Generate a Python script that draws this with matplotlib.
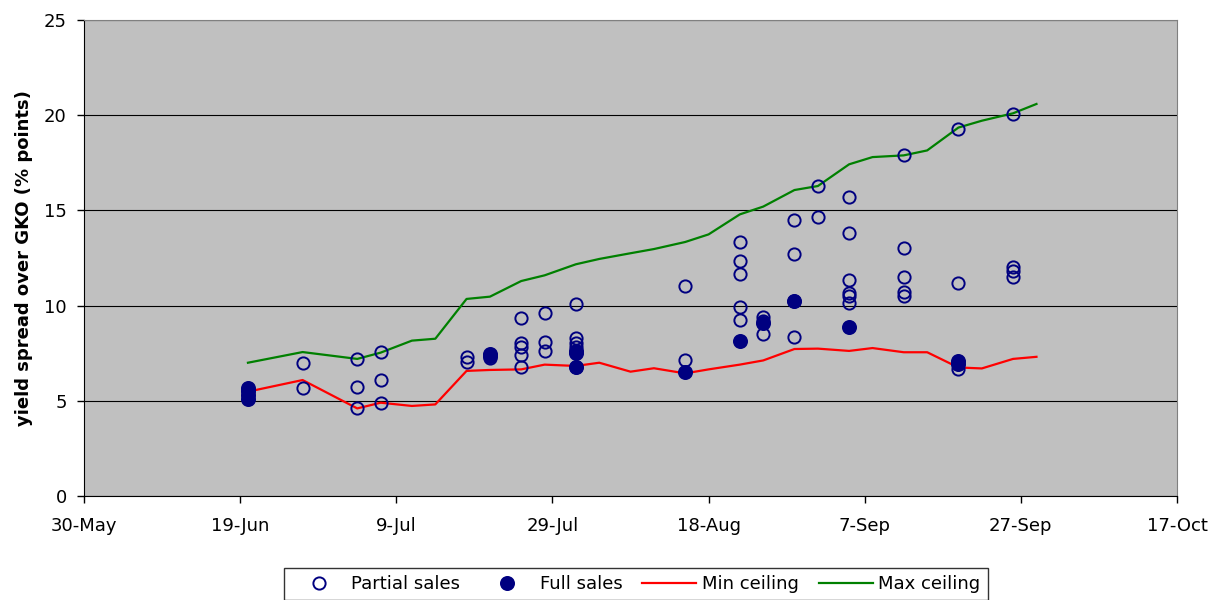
import matplotlib
matplotlib.use("Agg")
import matplotlib.pyplot as plt
import matplotlib.dates as mdates
import pandas as pd

# Techos de rendimiento (fechas de subasta, 1998)
ceiling_dates = ["1998-06-20", "1998-06-27", "1998-07-04", "1998-07-07", "1998-07-11",
                 "1998-07-14", "1998-07-18", "1998-07-21", "1998-07-25", "1998-07-28",
                 "1998-08-01", "1998-08-04", "1998-08-08", "1998-08-11", "1998-08-15",
                 "1998-08-18", "1998-08-22", "1998-08-25", "1998-08-29", "1998-09-01",
                 "1998-09-05", "1998-09-08", "1998-09-12", "1998-09-15", "1998-09-19",
                 "1998-09-22", "1998-09-26", "1998-09-29"]
min_ceiling = [5.48, 6.09, 4.60, 4.90, 4.73, 4.81, 6.57, 6.62, 6.65, 6.90,
               6.83, 7.00, 6.53, 6.71, 6.44, 6.65, 6.90, 7.12, 7.72, 7.74,
               7.62, 7.77, 7.55, 7.55, 6.75, 6.70, 7.20, 7.31]
max_ceiling = [7.00, 7.56, 7.20, 7.53, 8.16, 8.26, 10.35, 10.47, 11.29, 11.59,
               12.17, 12.45, 12.75, 12.97, 13.34, 13.74, 14.79, 15.20, 16.07, 16.28,
               17.42, 17.80, 17.89, 18.15, 19.35, 19.71, 20.10, 20.59]

# Ventas parciales
partial_dates = (["1998-06-27"] * 2 + ["1998-07-04"] * 3 + ["1998-07-07"] * 3
                 + ["1998-07-18"] * 2 + ["1998-07-21"] * 1 + ["1998-07-25"] * 5
                 + ["1998-07-28"] * 3 + ["1998-08-01"] * 5 + ["1998-08-15"] * 2
                 + ["1998-08-22"] * 5 + ["1998-08-25"] * 3 + ["1998-08-29"] * 4
                 + ["1998-09-01"] * 2 + ["1998-09-05"] * 6 + ["1998-09-12"] * 5
                 + ["1998-09-19"] * 3 + ["1998-09-26"] * 4)
partial_spread = [6.97, 5.69,
                  7.20, 5.74, 4.60,
                  7.55, 6.09, 4.90,
                  7.32, 7.05,
                  7.25,
                  9.33, 8.02, 7.84, 7.41, 6.76,
                  9.59, 8.10, 7.63,
                  10.07, 8.28, 8.05, 7.85, 6.79,
                  11.05, 7.14,
                  13.32, 12.34, 11.64, 9.94, 9.24,
                  9.42, 9.20, 8.49,
                  14.50, 12.69, 10.22, 8.33,
                  16.28, 14.64,
                  15.69, 13.80, 11.34, 10.68, 10.50, 10.12,
                  17.91, 13.04, 11.48, 10.72, 10.48,
                  19.26, 11.20, 6.68,
                  20.06, 12.02, 11.82, 11.52]

# Ventas completas
full_dates = (["1998-06-20"] * 4 + ["1998-07-21"] * 2 + ["1998-08-01"] * 3
              + ["1998-08-15", "1998-08-22", "1998-08-25", "1998-08-29", "1998-09-05"]
              + ["1998-09-19"] * 2)
full_spread = [5.10, 5.30, 5.50, 5.65,
               7.45, 7.35,
               7.60, 7.53, 6.79,
               6.53, 8.16, 9.07, 10.22, 8.89,
               7.10, 6.95]

tick_dates = pd.date_range("1998-05-30", "1998-10-17", freq="20D")


def main():
    plt.rcParams["font.family"] = "DejaVu Sans"
    plt.rcParams["font.size"] = 13

    fig = plt.figure(figsize=(12.23, 6.0), dpi=100)
    ax = fig.add_axes([84 / 1223, 1 - 496 / 600, (1177 - 84) / 1223, (496 - 20) / 600])
    ax.set_facecolor("#C0C0C0")

    navy = "#000080"
    ax.plot(pd.to_datetime(partial_dates), partial_spread, "o", ls="none",
            mfc="none", mec=navy, mew=1.4, ms=8.8, label="Partial sales", zorder=4)
    ax.plot(pd.to_datetime(full_dates), full_spread, "o", ls="none",
            mfc=navy, mec=navy, mew=1.2, ms=9.6, label="Full sales", zorder=5)
    ax.plot(pd.to_datetime(ceiling_dates), min_ceiling, color="#FF0000", lw=1.6,
            label="Min ceiling", zorder=3)
    ax.plot(pd.to_datetime(ceiling_dates), max_ceiling, color="#008000", lw=1.6,
            label="Max ceiling", zorder=3)

    ax.set_xlim(tick_dates[0], tick_dates[-1])
    ax.set_ylim(0, 25)
    ax.set_xticks(tick_dates)
    ax.xaxis.set_major_formatter(plt.FuncFormatter(
        lambda v, p: "%d-%s" % (mdates.num2date(v).day, mdates.num2date(v).strftime("%b"))))
    ax.set_yticks(range(0, 26, 5))
    ax.yaxis.grid(True, color="#000000", lw=0.8)
    ax.set_axisbelow(True)

    ax.tick_params(axis="both", direction="out", length=5, width=1, colors="black")
    ax.tick_params(axis="y", pad=7.5)
    ax.tick_params(axis="x", pad=10)
    ax.tick_params(top=False, right=False)
    for side in ["left", "bottom"]:
        ax.spines[side].set_color("black")
    for side in ["top", "right"]:
        ax.spines[side].set_color("#808080")

    ax.set_ylabel("yield spread over GKO (% points)", fontweight="bold", fontsize=13,
                  labelpad=8)

    leg = fig.legend(loc="upper center", bbox_to_anchor=(636 / 1223, 1 - 568 / 600),
                     ncol=4, frameon=True, fancybox=False, edgecolor="black",
                     borderaxespad=0, handlelength=3.0, handletextpad=0.3,
                     columnspacing=1.1, fontsize=13)
    leg.get_frame().set_linewidth(1.0)

    fig.savefig("out.png", dpi=100)


if __name__ == "__main__":
    main()
